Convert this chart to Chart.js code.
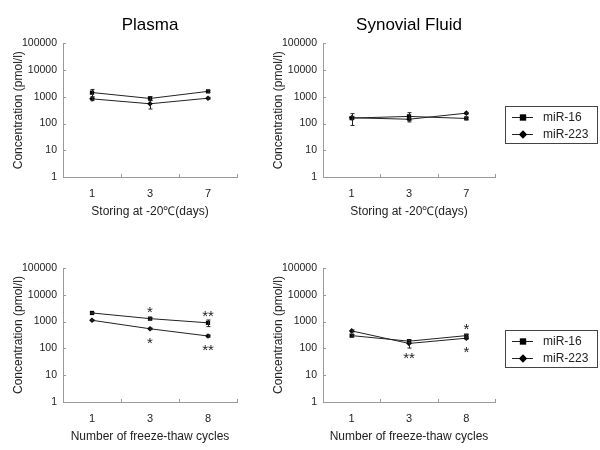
<!DOCTYPE html>
<html>
<head>
<meta charset="utf-8">
<script src="https://cdn.jsdelivr.net/npm/chart.js@4"></script>
<style>
body { margin: 0; background: #fff; width: 600px; height: 450px; position: relative; overflow: hidden; }
canvas { position: absolute; }
</style>
</head>
<body>
<canvas id="plasmaStore" width="260" height="225" style="left:0;top:0"></canvas>
<canvas id="synStore" width="340" height="225" style="left:260px;top:0"></canvas>
<canvas id="plasmaFreeze" width="260" height="225" style="left:0;top:225px"></canvas>
<canvas id="synFreeze" width="340" height="225" style="left:260px;top:225px"></canvas>
<script>
// categories
var storeDays = ['1', '3', '7'];
var freezeCycles = ['1', '3', '8'];
var yTicks = [1, 10, 100, 1000, 10000, 100000];

// Plasma, storing at -20C
var plasmaStore16 = [1450, 870, 1600];
var plasmaStore16Err = [440, 150, 120];
var plasmaStore223 = [840, 550, 890];
var plasmaStore223Err = [120, 200, 70];

// Synovial fluid, storing at -20C
var synStore16 = [160, 185, 155];
var synStore16Err = [75, 70, 15];
var synStore223 = [165, 145, 245];
var synStore223Err = [20, 15, 20];

// Plasma, freeze-thaw
var plasmaFreeze16 = [2100, 1290, 900];
var plasmaFreeze16Err = [100, 120, 250];
var plasmaFreeze223 = [1120, 540, 290];
var plasmaFreeze223Err = [60, 40, 30];
var plasmaFreezeSigUp = ['', '*', '**'];
var plasmaFreezeSigDown = ['', '*', '**'];

// Synovial fluid, freeze-thaw
var synFreeze16 = [300, 186, 300];
var synFreeze16Err = [30, 20, 30];
var synFreeze223 = [450, 153, 240];
var synFreeze223Err = [40, 50, 20];
var synFreezeSigUp = ['', '', '*'];
var synFreezeSigDown = ['', '**', '*'];

var ink = '#222';
var axisGrey = '#9a9a9a';

// small ticks pointing into the plot
const innerTicks = {
    id: 'innerTicks',
    afterDraw(chart) {
        const ctx = chart.ctx, a = chart.chartArea, x = chart.scales.x, y = chart.scales.y;
        ctx.save();
        ctx.strokeStyle = axisGrey;
        ctx.lineWidth = 1;
        ctx.beginPath();
        y.ticks.forEach(function (t) {
            var py = Math.round(y.getPixelForValue(t.value)) + 0.5;
            ctx.moveTo(a.left, py);
            ctx.lineTo(a.left + 3, py);
        });
        var step = x.getPixelForValue(1) - x.getPixelForValue(0);
        for (var i = 0; i <= x.ticks.length; i++) {
            var px = Math.round(x.getPixelForValue(0) - step / 2 + i * step) + 0.5;
            ctx.moveTo(px, a.bottom);
            ctx.lineTo(px, a.bottom - 3);
        }
        ctx.stroke();
        ctx.restore();
    }
};

// error bars and significance stars
const errorBars = {
    id: 'errorBars',
    afterDatasetsDraw(chart, args, opts) {
        const ctx = chart.ctx, y = chart.scales.y;
        ctx.save();
        ctx.strokeStyle = ink;
        ctx.lineWidth = 1;
        chart.data.datasets.forEach(function (ds, i) {
            var meta = chart.getDatasetMeta(i);
            ds.data.forEach(function (v, j) {
                var e = ds.errors[j];
                var px = Math.round(meta.data[j].x) + 0.5;
                var top = y.getPixelForValue(v + e);
                var bot = y.getPixelForValue(Math.max(v - e, 1));
                ctx.beginPath();
                ctx.moveTo(px, top); ctx.lineTo(px, bot);
                ctx.moveTo(px - 2, top); ctx.lineTo(px + 2, top);
                ctx.moveTo(px - 2, bot); ctx.lineTo(px + 2, bot);
                ctx.stroke();
            });
        });
        if (opts.up) {
            ctx.fillStyle = ink;
            ctx.font = '15px "Liberation Sans", Arial, sans-serif';
            ctx.textAlign = 'center';
            ctx.textBaseline = 'middle';
            var m0 = chart.getDatasetMeta(0), m1 = chart.getDatasetMeta(1);
            opts.up.forEach(function (s, j) {
                var px = m0.data[j].x;
                var hi = Math.min(m0.data[j].y, m1.data[j].y);
                var lo = Math.max(m0.data[j].y, m1.data[j].y);
                if (s) ctx.fillText(s, px, hi - 6);
                if (opts.down[j]) ctx.fillText(opts.down[j], px, lo + 15);
            });
        }
        ctx.restore();
    }
};

// boxed legend to the right of the plot
const legendBox = {
    id: 'legendBox',
    afterDraw(chart, args, opts) {
        if (!opts.show) return;
        const ctx = chart.ctx;
        var bx = chart.chartArea.right + 10, by = opts.top;
        ctx.save();
        ctx.strokeStyle = '#444';
        ctx.lineWidth = 1;
        ctx.strokeRect(bx + 0.5, by + 0.5, 92, 37);
        ctx.font = '12px "Liberation Sans", Arial, sans-serif';
        ctx.textBaseline = 'middle';
        chart.data.datasets.forEach(function (ds, i) {
            var cy = by + 11.5 + i * 17;
            ctx.beginPath();
            ctx.moveTo(bx + 7, cy);
            ctx.lineTo(bx + 28, cy);
            ctx.strokeStyle = ink;
            ctx.stroke();
            ctx.fillStyle = '#000';
            Chart.helpers.drawPoint(ctx, { pointStyle: ds.pointStyle, radius: ds.pointStyle === 'rect' ? 4.5 : 4.2, rotation: 0, borderWidth: 0 }, bx + 18, cy);
            ctx.fillStyle = ink;
            ctx.fillText(ds.label, bx + 38, cy);
        });
        ctx.restore();
    }
};

function makeChart(id, labels, s16, e16, s223, e223, xTitle, titleText, rightPad, sigUp, sigDown) {
    var ctx = document.getElementById(id).getContext('2d');
    return new Chart(ctx, {
        type: 'line',
        data: {
            labels: labels,
            datasets: [{
                label: 'miR-16',
                data: s16,
                errors: e16,
                borderColor: ink,
                borderWidth: 1,
                pointStyle: 'rect',
                pointRadius: 3,
                pointBackgroundColor: '#000',
                pointBorderWidth: 0
            }, {
                label: 'miR-223',
                data: s223,
                errors: e223,
                borderColor: ink,
                borderWidth: 1,
                pointStyle: 'rectRot',
                pointRadius: 2.8,
                pointBackgroundColor: '#000',
                pointBorderWidth: 0
            }]
        },
        options: {
            responsive: false,
            animation: false,
            layout: { padding: { top: titleText ? 0 : 43, right: rightPad, bottom: 0, left: 0 } },
            plugins: {
                legend: { display: false },
                tooltip: { enabled: false },
                title: {
                    display: !!titleText,
                    text: titleText,
                    fullSize: false,
                    color: '#000',
                    font: { family: '"Liberation Sans", Arial, sans-serif', size: 17, weight: 'normal' },
                    padding: { top: 15, bottom: 8 }
                },
                errorBars: { up: sigUp, down: sigDown },
                legendBox: { show: rightPad > 50, top: titleText ? 106 : 105 }
            },
            scales: {
                x: {
                    offset: true,
                    grid: { drawOnChartArea: false, drawTicks: false, offset: true },
                    border: { color: axisGrey },
                    ticks: { color: ink, padding: 10, font: { family: '"Liberation Sans", Arial, sans-serif', size: 11 } },
                    title: {
                        display: true, text: xTitle, color: ink,
                        font: { family: '"Liberation Sans", Arial, sans-serif', size: 12 },
                        padding: { top: 4, bottom: 6 }
                    },
                    afterFit: function (s) { s.height = 48; }
                },
                y: {
                    type: 'logarithmic',
                    min: 1,
                    max: 100000,
                    grid: { drawOnChartArea: false, drawTicks: false },
                    border: { color: axisGrey },
                    afterBuildTicks: function (s) { s.ticks = yTicks.map(function (v) { return { value: v }; }); },
                    ticks: {
                        color: ink, padding: 6,
                        font: { family: '"Liberation Sans", Arial, sans-serif', size: 10.5 },
                        callback: function (v) { return String(v); }
                    },
                    title: {
                        display: true, text: 'Concentration (pmol/l)', color: ink,
                        font: { family: '"Liberation Sans", Arial, sans-serif', size: 12 },
                        padding: { top: 11, bottom: 0 }
                    },
                    afterFit: function (s) { s.width = 63; }
                }
            }
        },
        plugins: [innerTicks, errorBars, legendBox]
    });
}

makeChart('plasmaStore', storeDays, plasmaStore16, plasmaStore16Err, plasmaStore223, plasmaStore223Err,
    'Storing at -20\u2103(days)', 'Plasma', 23, null, null);
makeChart('synStore', storeDays, synStore16, synStore16Err, synStore223, synStore223Err,
    'Storing at -20\u2103(days)', 'Synovial Fluid', 105, null, null);
makeChart('plasmaFreeze', freezeCycles, plasmaFreeze16, plasmaFreeze16Err, plasmaFreeze223, plasmaFreeze223Err,
    'Number of freeze-thaw cycles', '', 23, plasmaFreezeSigUp, plasmaFreezeSigDown);
makeChart('synFreeze', freezeCycles, synFreeze16, synFreeze16Err, synFreeze223, synFreeze223Err,
    'Number of freeze-thaw cycles', '', 105, synFreezeSigUp, synFreezeSigDown);
</script>
</body>
</html>
